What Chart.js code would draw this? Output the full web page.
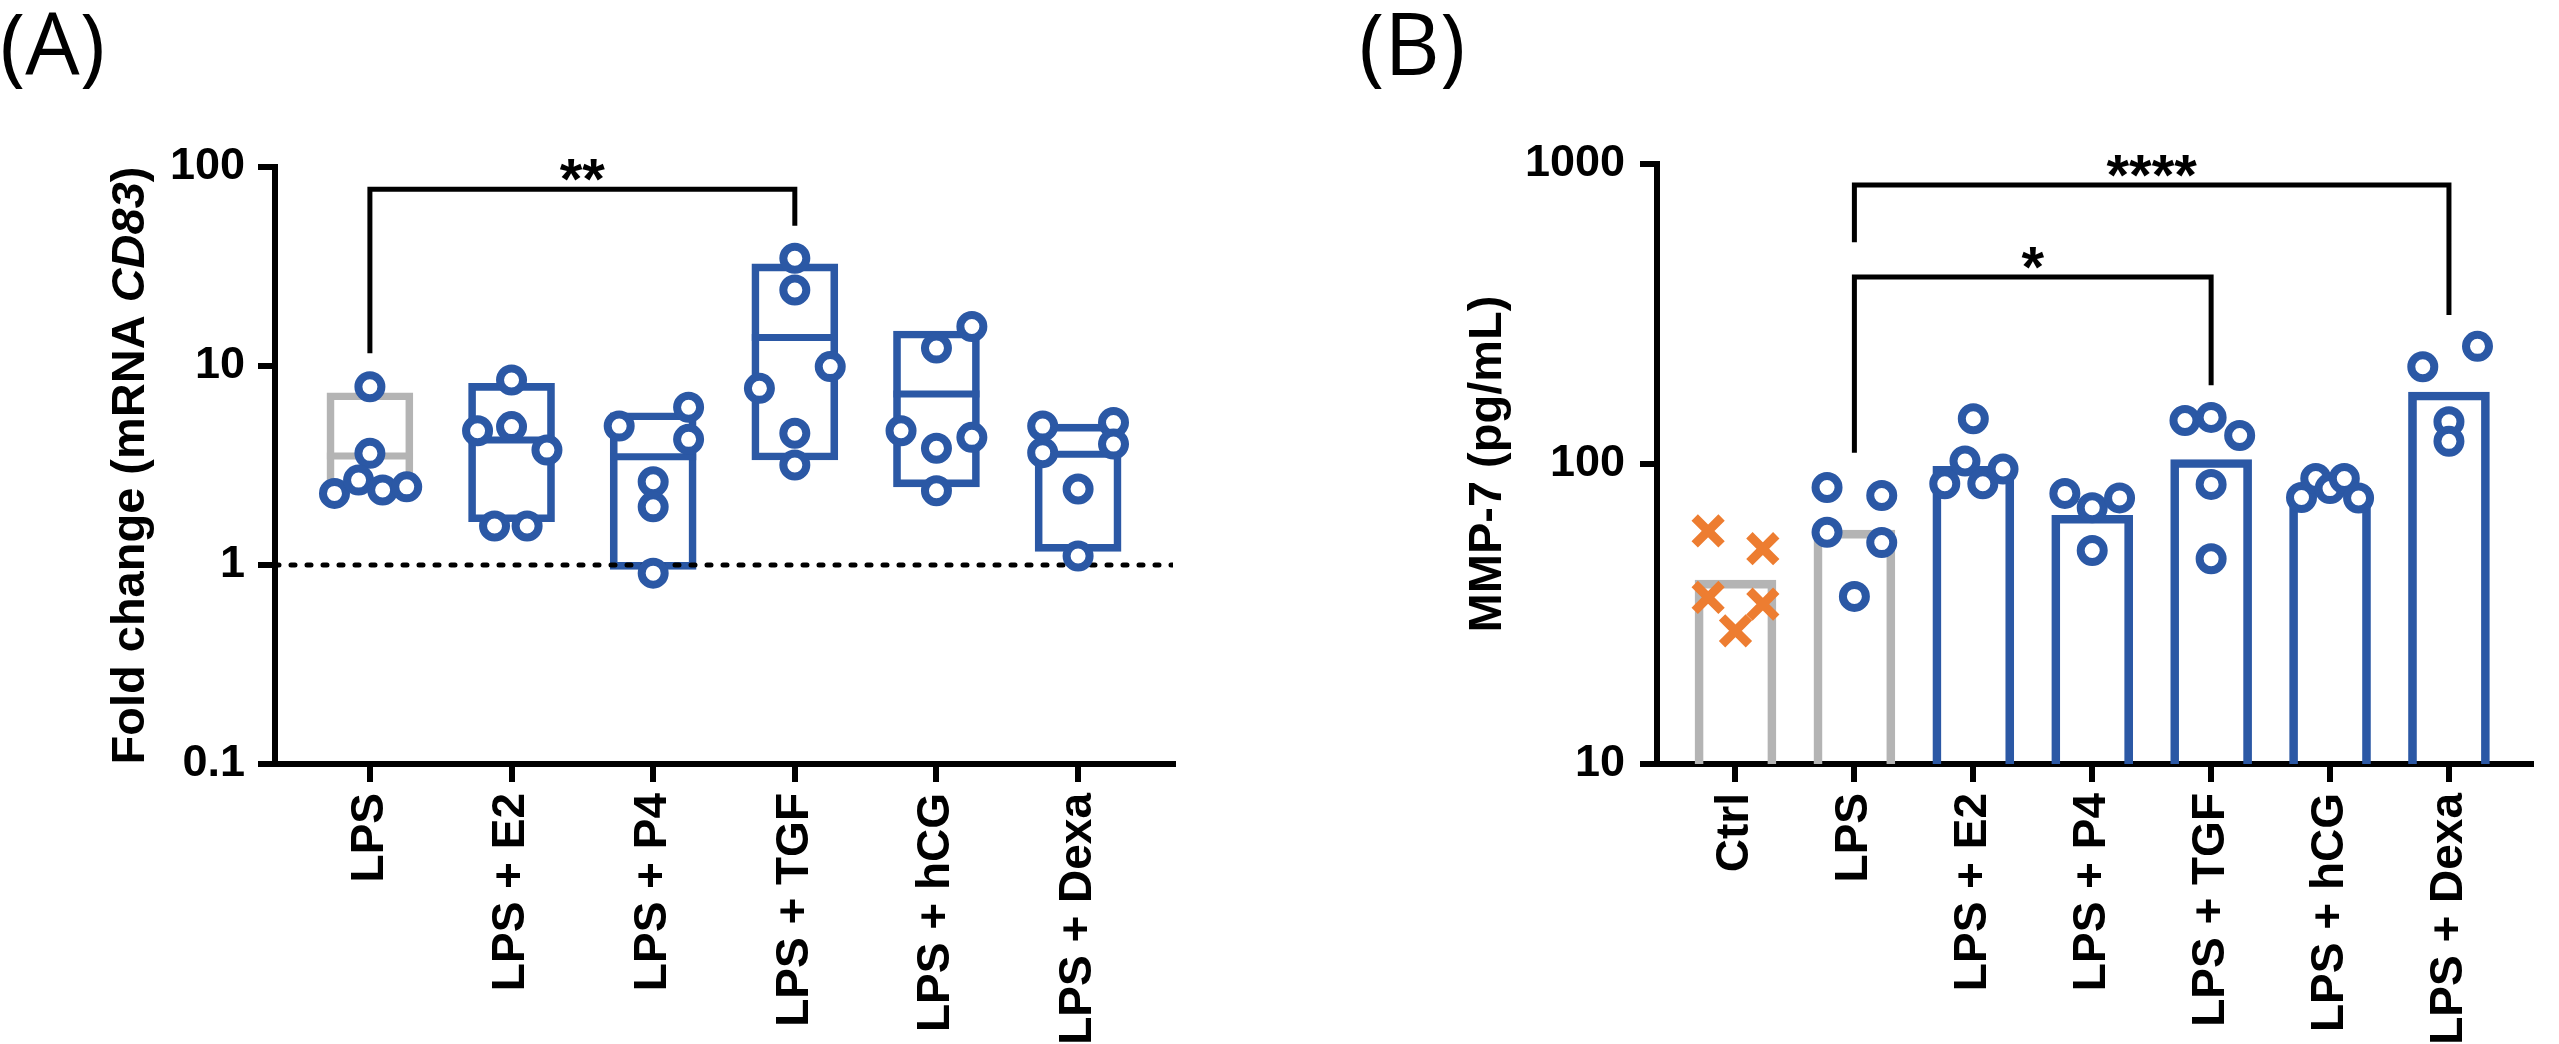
<!DOCTYPE html>
<html>
<head>
<meta charset="utf-8">
<title>CD83 / MMP-7</title>
<script src="https://cdn.jsdelivr.net/npm/chart.js@4.4.1/dist/chart.umd.min.js"></script>
<style>
  html, body { margin: 0; padding: 0; background: #fff; overflow: hidden; }
  #wrap { position: relative; width: 2559px; height: 1044px; }
  canvas { position: absolute; top: 0; }
  #chartA { left: 0; }
  #chartB { left: 1280px; }
</style>
</head>
<body>
<div id="wrap">
  <canvas id="chartA" width="1280" height="1044"></canvas>
  <canvas id="chartB" width="1279" height="1044"></canvas>
</div>
<script>
const BLUE = "#2b58a5";
const GRAY = "#b4b4b4";
const ORANGE = "#ed7d31";

// ---- panel A : fold change mRNA CD83 ----
const groupsA = ["LPS", "LPS + E2", "LPS + P4", "LPS + TGF", "LPS + hCG", "LPS + Dexa"];
const boxLowA = [2.36, 1.65, 0.95, 3.37, 2.47, 1.17];
const boxHighA = [7.34, 8.18, 5.82, 32.6, 15.0, 5.1];
const meanA = [3.53, 4.25, 3.5, 13.9, 7.23, 3.6];
const pointsA = [
    [7.87, 3.64, 2.29, 2.67, 2.38, 2.47],
    [8.5, 4.73, 4.96, 3.78, 1.57, 1.57],
    [6.2, 4.99, 4.28, 2.62, 1.96, 0.91],
    [34.8, 24.1, 9.93, 7.72, 4.59, 3.18],
    [15.8, 12.3, 4.73, 4.38, 3.86, 2.36],
    [4.99, 5.2, 3.67, 4.05, 2.41, 1.11]
];
const jitterA = [
    [0, 0, -0.25, -0.08, 0.09, 0.26],
    [0, -0.24, 0, 0.25, -0.12, 0.11],
    [0.25, -0.24, 0.25, 0, 0, 0],
    [0, 0, 0.25, -0.25, 0, 0],
    [0.25, 0, -0.25, 0.25, 0, 0],
    [-0.25, 0.25, -0.25, 0.25, 0, 0]
];
const yTicksA = [0.1, 1, 10, 100];
const refLineA = 1;
const sigA = [{ from: 0, to: 3, top: 77.4, fromEnd: 11.6, toEnd: 50.6, label: "**" }];

// ---- panel B : MMP-7 pg/mL ----
const groupsB = ["Ctrl", "LPS", "LPS + E2", "LPS + P4", "LPS + TGF", "LPS + hCG", "LPS + Dexa"];
const meanB = [41, 60.2, 98.2, 67.5, 103.5, 83, 173.8];
const pointsB = [
    [59.8, 52.2, 35.9, 34.1, 27.8],
    [83.5, 78.5, 59.2, 54.7, 36.2],
    [85.9, 102.3, 141.6, 85.9, 96.2],
    [79.8, 71.5, 77.1, 51.5],
    [139.6, 143, 124.5, 85.5, 48.3],
    [77.3, 89.5, 82.8, 89.5, 77.0],
    [211, 246.7, 138.4, 119]
];
const jitterB = [
    [-0.23, 0.23, -0.23, 0.23, 0],
    [-0.23, 0.23, -0.23, 0.23, 0],
    [-0.24, -0.07, 0, 0.08, 0.25],
    [-0.23, 0, 0.23, 0],
    [-0.22, 0, 0.24, 0, 0],
    [-0.24, -0.12, 0, 0.12, 0.24],
    [-0.22, 0.24, 0, 0]
];
const yTicksB = [10, 100, 1000];
const sigB = [
    { from: 1, to: 6, top: 851, fromEnd: 549, toEnd: 314, label: "****" },
    { from: 1, to: 4, top: 420, fromEnd: 109, toEnd: 183, label: "*" }
];

Chart.defaults.font.family = "'Liberation Sans', Arial, sans-serif";
Chart.defaults.font.weight = "bold";
Chart.defaults.color = "#000";
Chart.defaults.animation = false;

// panel letter, rotated y title (with italic part) and the star labels
const extras = {
    id: "extras",
    afterDraw(chart, args, opts) {
        const { ctx, chartArea, scales } = chart;
        ctx.save();
        ctx.fillStyle = "#000";
        ctx.textAlign = "left";
        ctx.textBaseline = "alphabetic";
        ctx.font = "400 86px 'Open Sans'";
        ctx.fillText(opts.letter, opts.letterX, 75);

        ctx.font = "bold 58px 'Liberation Sans'";
        ctx.textAlign = "center";
        opts.sig.forEach(s => {
            const x = scales.x.getPixelForValue((s.from + s.to) / 2);
            const y = scales.y.getPixelForValue(s.top) + 10;
            ctx.fillText(s.label, x, y);
        });

        ctx.translate(opts.titleX, (chartArea.top + chartArea.bottom) / 2);
        ctx.rotate(-Math.PI / 2);
        ctx.textAlign = "left";
        ctx.textBaseline = "middle";
        const parts = opts.title.map(p => ({
            text: p.text,
            font: (p.italic ? "italic " : "") + "bold 47px 'Liberation Sans'"
        }));
        let total = 0;
        parts.forEach(p => { ctx.font = p.font; p.w = ctx.measureText(p.text).width; total += p.w; });
        let x = -total / 2;
        parts.forEach(p => { ctx.font = p.font; ctx.fillText(p.text, x, 0); x += p.w; });
        ctx.restore();
    }
};

function xAxis(groups, min, max) {
    return {
        type: "linear",
        min, max,
        offset: false,
        afterBuildTicks: s => { s.ticks = groups.map((g, i) => ({ value: i })); },
        afterFit: s => { s.height = 280; },
        ticks: {
            callback: v => groups[v],
            autoSkip: false,
            minRotation: 90,
            maxRotation: 90,
            padding: 11,
            font: { size: 46 }
        },
        grid: { offset: false, drawOnChartArea: false, tickLength: 18, tickWidth: 6, tickColor: "#000", color: "#000", lineWidth: 6 },
        border: { display: true, width: 6, color: "#000" }
    };
}

function yAxis(tickVals, min, max, width, padding) {
    return {
        type: "logarithmic",
        min, max,
        afterBuildTicks: s => { s.ticks = tickVals.map(v => ({ value: v })); },
        afterFit: s => { s.width = width; },
        ticks: { callback: v => String(v), padding, font: { size: 45 } },
        grid: { drawOnChartArea: false, tickLength: 17, tickWidth: 6, tickColor: "#000", color: "#000", lineWidth: 6 },
        border: { display: true, width: 6, color: "#000" }
    };
}

function bracketSets(sig) {
    return sig.map(s => ({
        type: "line",
        data: [
            { x: s.from, y: s.fromEnd }, { x: s.from, y: s.top },
            { x: s.to, y: s.top }, { x: s.to, y: s.toEnd }
        ],
        borderColor: "#000",
        borderWidth: 5,
        borderJoinStyle: "miter",
        pointRadius: 0,
        order: 0
    }));
}

function jittered(points, jitter, first) {
    const out = [];
    points.forEach((vals, g) => vals.forEach((v, k) => out.push({ x: first + g + jitter[g][k], y: v })));
    return out;
}

const X_MIN_A = -0.67, X_MAX_A = 5.67;
const colorsA = groupsA.map((g, i) => i === 0 ? GRAY : BLUE);

new Chart(document.getElementById("chartA"), {
    type: "bar",
    data: {
        datasets: [
            ...bracketSets(sigA),
            {
                type: "scatter",
                data: jittered(pointsA, jitterA, 0),
                pointStyle: "circle",
                pointRadius: 11.5,
                pointBorderWidth: 8,
                pointBackgroundColor: "#fff",
                pointBorderColor: BLUE,
                clip: false,
                order: 0
            },
            {
                type: "line",
                data: [{ x: X_MIN_A, y: refLineA }, { x: X_MAX_A, y: refLineA }],
                borderColor: "#000",
                borderWidth: 5,
                borderDash: [4, 12],
                borderCapStyle: "round",
                pointRadius: 0,
                order: 1
            },
            {
                type: "scatter",
                data: meanA.map((m, i) => ({ x: i, y: m })),
                pointStyle: "line",
                pointRadius: 43,
                pointBorderWidth: 7,
                pointBorderColor: colorsA,
                order: 2
            },
            {
                type: "bar",
                data: boxLowA.map((lo, i) => ({ x: i, y: [lo, boxHighA[i]] })),
                barThickness: 86,
                borderWidth: 7,
                borderSkipped: false,
                borderColor: colorsA,
                backgroundColor: "rgba(0,0,0,0)",
                order: 3
            }
        ]
    },
    options: {
        responsive: false,
        layout: { padding: { top: 167, right: 107, bottom: 0, left: 0 } },
        scales: {
            x: xAxis(groupsA, X_MIN_A, X_MAX_A),
            y: yAxis(yTicksA, 0.1, 100, 275, 13)
        },
        plugins: {
            legend: { display: false },
            tooltip: { enabled: false },
            extras: {
                letter: "(A)", letterX: 0, titleX: 131, sig: sigA,
                title: [{ text: "Fold change (mRNA " }, { text: "CD83", italic: true }, { text: ")" }]
            }
        }
    },
    plugins: [extras]
});

const colorsB = groupsB.map((g, i) => i < 2 ? GRAY : BLUE);

new Chart(document.getElementById("chartB"), {
    type: "bar",
    data: {
        datasets: [
            ...bracketSets(sigB),
            {
                type: "scatter",
                data: jittered(pointsB.slice(0, 1), jitterB.slice(0, 1), 0),
                pointStyle: "crossRot",
                pointRadius: 19,
                pointBorderWidth: 9,
                pointBorderColor: ORANGE,
                clip: false,
                order: 0
            },
            {
                type: "scatter",
                data: jittered(pointsB.slice(1), jitterB.slice(1), 1),
                pointStyle: "circle",
                pointRadius: 11.5,
                pointBorderWidth: 8,
                pointBackgroundColor: "#fff",
                pointBorderColor: BLUE,
                clip: false,
                order: 0
            },
            {
                type: "bar",
                data: meanB.map((m, i) => ({ x: i, y: m })),
                barThickness: 81,
                borderWidth: 8,
                borderSkipped: "start",
                borderColor: colorsB,
                backgroundColor: "rgba(0,0,0,0)",
                order: 3
            }
        ]
    },
    options: {
        responsive: false,
        layout: { padding: { top: 164, right: 7, bottom: 0, left: 0 } },
        scales: {
            x: xAxis(groupsB, -0.66, 6.69),
            y: yAxis(yTicksB, 10, 1000, 377, 15)
        },
        plugins: {
            legend: { display: false },
            tooltip: { enabled: false },
            extras: {
                letter: "(B)", letterX: 79, titleX: 208, sig: sigB,
                title: [{ text: "MMP-7 (pg/mL)" }]
            }
        }
    },
    plugins: [extras]
});
</script>
</body>
</html>
